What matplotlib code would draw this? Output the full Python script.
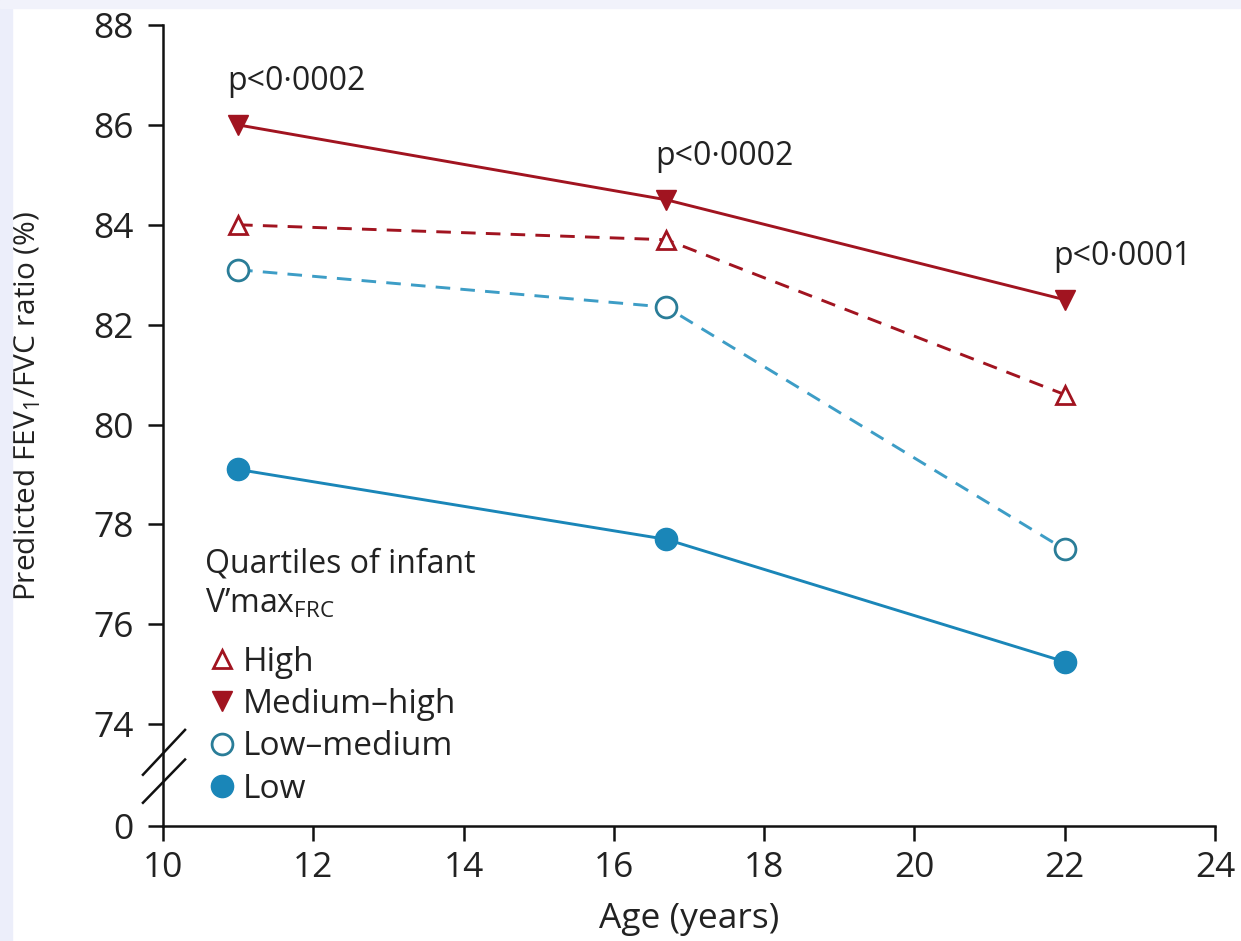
import matplotlib
matplotlib.use("Agg")
import matplotlib.pyplot as plt
from matplotlib.patches import Rectangle
from matplotlib.lines import Line2D

plt.rcParams['font.family'] = ['Open Sans', 'DejaVu Sans']
plt.rcParams['mathtext.fontset'] = 'custom'
plt.rcParams['mathtext.rm'] = 'Open Sans'

# age at each follow-up
ages = [11, 16.7, 22]

# predicted FEV1/FVC ratio (%) by quartile of infant V'maxFRC
high = [84.0, 83.7, 80.6]
medium_high = [86.0, 84.5, 82.5]
low_medium = [83.1, 82.35, 77.5]
low = [79.1, 77.7, 75.25]

p_labels = ['p<0·0002', 'p<0·0002', 'p<0·0001']

x_ticks = [10, 12, 14, 16, 18, 20, 22, 24]
y_ticks = [74, 76, 78, 80, 82, 84, 86, 88]
y_zero = 71.96  # where the broken axis shows 0

RED = '#a11420'
BLUE = '#1a86b8'
BLUE_LIGHT = '#3d9dc6'
TEAL = '#2a7d98'
INK = '#222222'

fig = plt.figure(figsize=(12.41, 9.41), dpi=100)
fig.patch.set_facecolor('white')
# soft lavender frame along top and left edges
fig.patches.append(Rectangle((0, 0), 0.010, 1, transform=fig.transFigure,
                             color='#eceefa', zorder=0))
fig.patches.append(Rectangle((0, 0.9915), 1, 0.0085, transform=fig.transFigure,
                             color='#f1f2fb', zorder=0))

ax = fig.add_axes([0.1313, 0.1222, 0.8477, 0.8512])

dash = (0, (5, 3.5))
ax.plot(ages, medium_high, color=RED, lw=2.1, marker='v', ms=15,
        mfc=RED, mec=RED, zorder=4)
ax.plot(ages, high, color=RED, lw=2.1, ls=dash, marker='^', ms=13,
        mfc='white', mec=RED, mew=2.0, zorder=4)
ax.plot(ages, low_medium, color=BLUE_LIGHT, lw=2.1, ls=dash, marker='o',
        ms=15, mfc='white', mec=TEAL, mew=2.0, zorder=4)
ax.plot(ages, low, color=BLUE, lw=2.1, marker='o', ms=16,
        mfc=BLUE, mec=BLUE, zorder=4)

for age, val, txt in zip(ages, medium_high, p_labels):
    ax.annotate(txt, xy=(age, val), xytext=(-8, 31), textcoords='offset points',
                ha='left', va='center', fontsize=23, color=INK)

ax.set_xlim(10, 24)
ax.set_ylim(y_zero, 88)
ax.set_xticks(x_ticks)
ax.set_yticks([y_zero] + y_ticks)
ax.set_yticklabels(['0'] + [str(t) for t in y_ticks])

for side in ['top', 'right']:
    ax.spines[side].set_visible(False)
for side in ['left', 'bottom']:
    ax.spines[side].set_linewidth(1.8)
    ax.spines[side].set_color('#111111')

ax.tick_params(axis='both', direction='out', length=11, width=1.8,
               labelsize=25.5, colors='#111111', labelcolor=INK)
ax.tick_params(axis='y', pad=10)
ax.tick_params(axis='x', pad=7)

# axis break slashes
brk = dict(transform=ax.transAxes, color='#111111', lw=1.8, clip_on=False)
ax.plot([-0.019, 0.021], [0.064, 0.120], **brk)
ax.plot([-0.019, 0.021], [0.029, 0.083], **brk)

ax.set_xlabel('Age (years)', fontsize=25.5, color=INK, labelpad=12)
ax.set_ylabel('Predicted FEV$_1$/FVC ratio (%)', fontsize=21.5, color=INK)
ax.yaxis.set_label_coords(-0.114, 0.525)

# legend: title lines as text, then marker-only entries
ax.text(0.040, 0.317, 'Quartiles of infant', transform=ax.transAxes,
        fontsize=23, color=INK, va='baseline', ha='left')
ax.text(0.040, 0.266, 'V’max$_{\\mathrm{FRC}}$', transform=ax.transAxes,
        fontsize=23, color=INK, va='baseline', ha='left')

handles = [
    Line2D([], [], ls='none', marker='^', ms=13, mfc='white', mec=RED, mew=2.0),
    Line2D([], [], ls='none', marker='v', ms=15, mfc=RED, mec=RED),
    Line2D([], [], ls='none', marker='o', ms=15, mfc='white', mec=TEAL, mew=2.0),
    Line2D([], [], ls='none', marker='o', ms=16, mfc=BLUE, mec=BLUE),
]
labels = ['High', 'Medium–high', 'Low–medium', 'Low']
leg = ax.legend(handles, labels, loc='upper left', bbox_to_anchor=(0.047, 0.225),
                frameon=False, handlelength=0.6, handletextpad=0.3,
                labelspacing=0.28, borderpad=0, borderaxespad=0, fontsize=24)
for t in leg.get_texts():
    t.set_color(INK)

fig.savefig('out.png', dpi=100)
